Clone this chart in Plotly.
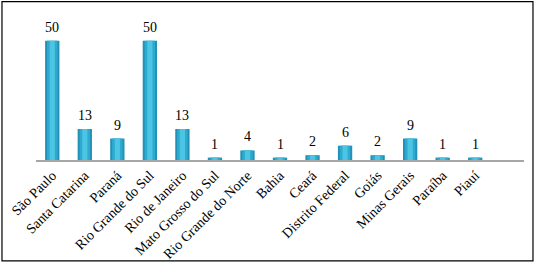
import plotly.graph_objects as go

categories = ["São Paulo", "Santa Catarina", "Paraná", "Rio Grande do Sul",
              "Rio de Janeiro", "Mato Grosso do Sul", "Rio Grande do Norte",
              "Bahia", "Ceará", "Distrito Federal", "Goiás", "Minas Gerais",
              "Paraíba", "Piauí", " "]
values = [50, 13, 9, 50, 13, 1, 4, 1, 2, 6, 2, 9, 1, 1, None]

font = "Liberation Serif"

fig = go.Figure()
# layered bars to mimic the cylindrical shading
for w, c in [(0.44, "#2192b5"), (0.32, "#2eaad0"), (0.16, "#4cc4e3")]:
    fig.add_trace(go.Bar(x=categories, y=values, width=w,
                         marker=dict(color=c, line=dict(width=0)),
                         hoverinfo="skip"))

annotations = [dict(x=c, y=v, xref="x", yref="y", text=str(v), showarrow=False,
                    yanchor="bottom", yshift=4,
                    font=dict(family=font, size=14, color="black"))
               for c, v in zip(categories, values) if v is not None]

fig.update_layout(
    width=537, height=264,
    margin=dict(l=36, r=13, t=17, b=104),
    barmode="overlay",
    showlegend=False,
    plot_bgcolor="white", paper_bgcolor="white",
    font=dict(family=font, size=12, color="black"),
    annotations=annotations,
    xaxis=dict(type="category", tickangle=-45, showgrid=False, zeroline=False,
               showline=True, linecolor="#a6a6a6", linewidth=1.5, ticks="",
               automargin=False, tickfont=dict(family=font, size=14, color="black")),
    yaxis=dict(range=[0, 60], visible=False, automargin=False),
    shapes=[dict(type="rect", xref="paper", yref="paper",
                 x0=-0.0697, x1=1.0184, y0=-0.706, y1=1.108,
                 line=dict(color="black", width=1.2), fillcolor="rgba(0,0,0,0)")],
)

fig.write_html("out.html", config={"displayModeBar": False},
               post_script="document.body.style.margin='0';")
